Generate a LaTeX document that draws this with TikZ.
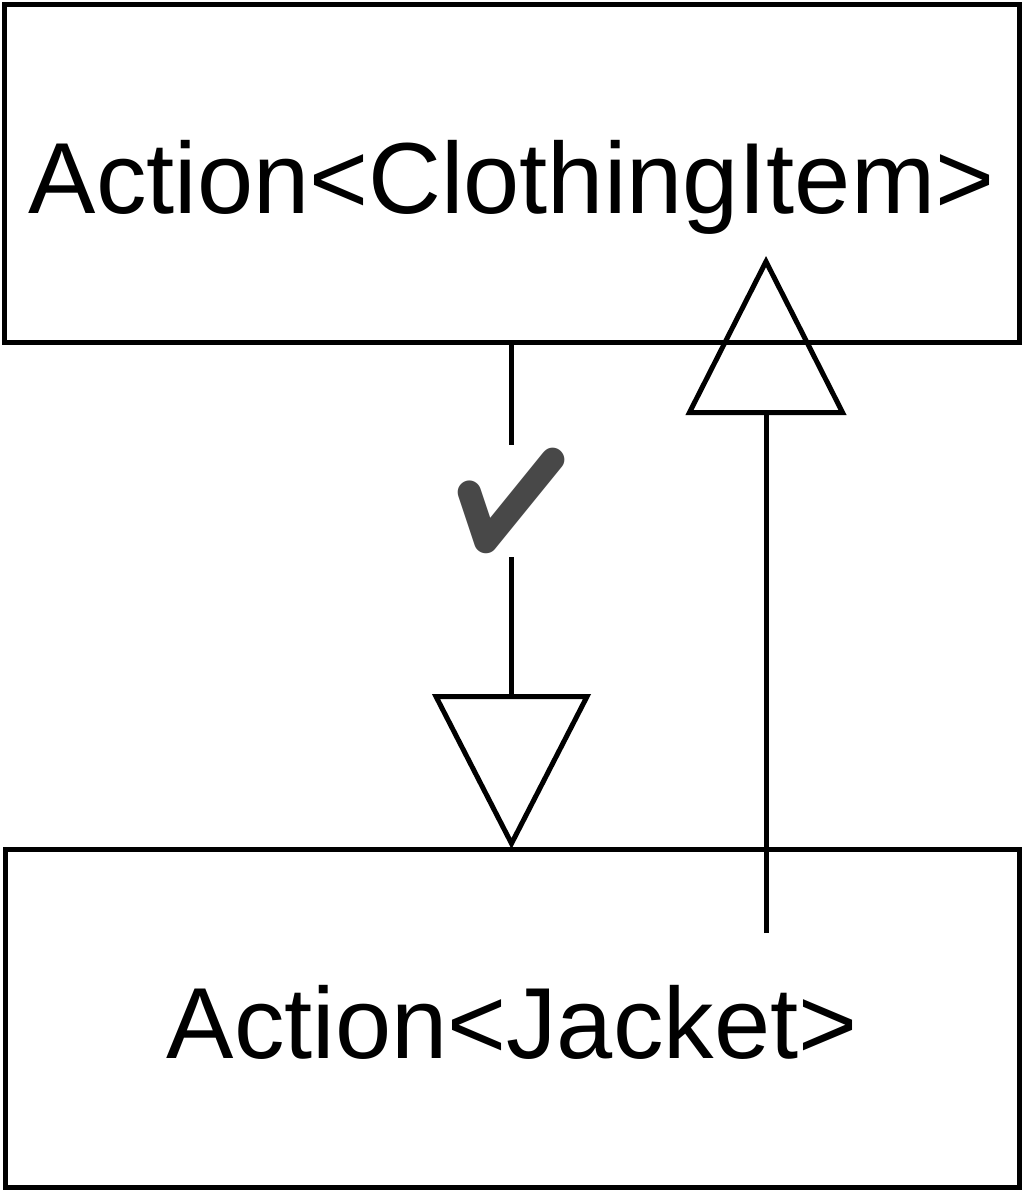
\documentclass[tikz,border=0pt]{standalone}
\usepackage{fontspec}
\setmainfont{Liberation Sans}
\newfontfamily\symfont{Noto Emoji}
\usetikzlibrary{arrows.meta}
\definecolor{checkgray}{RGB}{72,72,72}
\begin{document}
\begin{tikzpicture}[x=1pt,y=-1pt,
  classbox/.style={draw=black, line width=5pt, inner sep=0pt, outer sep=0pt,
    font=\fontsize{101}{120}\selectfont, text height=80pt, text depth=0pt},
  realize/.style 2 args={line width=5pt, -{Triangle[open, length=#1, width=#2]}},
  checklabel/.style={fill=white, inner sep=0pt, text=checkgray, minimum height=112pt,
    font=\symfont\fontsize{104}{110}\selectfont}
]
\useasboundingbox (0,0) rectangle (1024,1193);
\node[classbox, minimum width=1015pt, minimum height=337pt] (a) at (511.5,173.5) {Action<ClothingItem>};
\node[classbox, minimum width=1014pt, minimum height=338pt] (b) at (512,1018) {Action<Jacket>};
\draw[realize={155pt}{158pt}] (a.south) -- (a.south |- b.north)
  node[checklabel, pos=0.3136] (chk) {✔};
\coordinate (s2) at (766,933);
\coordinate (t2) at (766,256);
\draw[realize={159pt}{160pt}] (s2) -- (t2);
\end{tikzpicture}
\end{document}
